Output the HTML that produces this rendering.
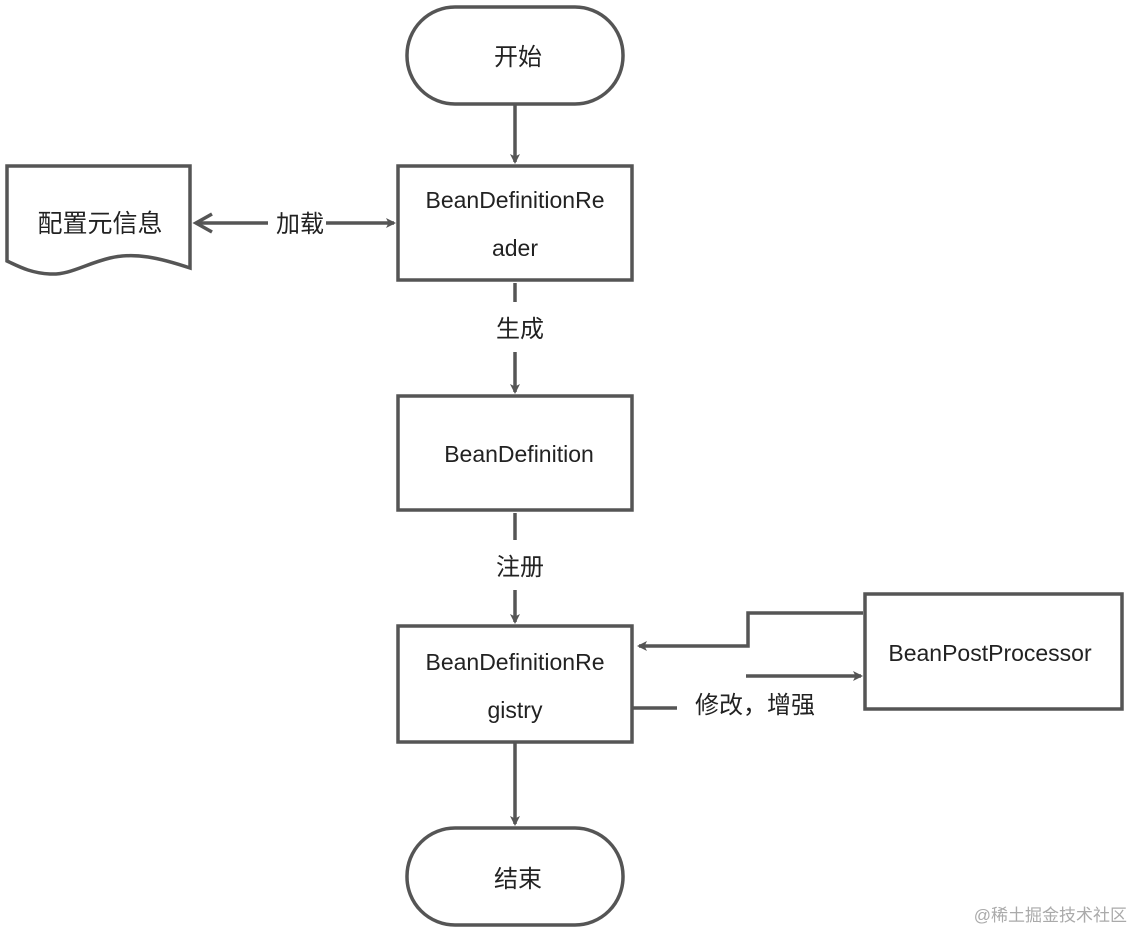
<!DOCTYPE html>
<html><head><meta charset="utf-8"><style>
html,body{margin:0;padding:0;background:#fff;}
svg{display:block;}
text{font-family:"Liberation Sans","Noto Sans CJK SC",sans-serif;fill:#222;}
</style></head><body>
<svg width="1133" height="932" viewBox="0 0 1133 932" xmlns="http://www.w3.org/2000/svg">
<defs>
<marker id="ah" markerWidth="10" markerHeight="10" refX="8" refY="5" orient="auto" markerUnits="userSpaceOnUse" viewBox="0 0 10 10">
<path d="M0,0 L10,5 L0,10 L2.5,5 Z" fill="#555"/>
</marker>
</defs>
<g fill="none" stroke="#555" stroke-width="3.5">
<rect x="407" y="7" width="216" height="97" rx="48" fill="#fff"/>
<rect x="398" y="166" width="234" height="114" fill="#fff"/>
<path d="M7,166 L190,166 L190,268 C160,258 135,252 110,258 C85,264 70,275 50,274 C30,273 18,266 7,261 Z" fill="#fff"/>
<rect x="398" y="396" width="234" height="114" fill="#fff"/>
<rect x="398" y="626" width="234" height="116" fill="#fff"/>
<rect x="865" y="594" width="257" height="115" fill="#fff"/>
<rect x="407" y="828" width="216" height="97" rx="48" fill="#fff"/>
</g>
<g fill="none" stroke="#555" stroke-width="3.5">
<line x1="515" y1="104" x2="515" y2="162" marker-end="url(#ah)" stroke-width="3.5"/>
<line x1="515" y1="283" x2="515" y2="302"/>
<line x1="515" y1="352" x2="515" y2="392" marker-end="url(#ah)"/>
<line x1="515" y1="513" x2="515" y2="540"/>
<line x1="515" y1="590" x2="515" y2="622" marker-end="url(#ah)"/>
<line x1="515" y1="742" x2="515" y2="824" marker-end="url(#ah)"/>
<line x1="268" y1="223" x2="197" y2="223"/>
<path d="M212,214 L196,223 L212,232" stroke-width="3.5"/>
<line x1="326" y1="223" x2="394" y2="223" marker-end="url(#ah)"/>
<path d="M863,613 L748,613 L748,646 L639,646" marker-end="url(#ah)"/>
<line x1="632" y1="708" x2="677" y2="708"/>
<line x1="746" y1="676" x2="861" y2="676" marker-end="url(#ah)"/>
</g>
<text x="518" y="65" font-size="24" text-anchor="middle">开始</text>
<text x="515" y="208" font-size="23" text-anchor="middle">BeanDefinitionRe</text>
<text x="515" y="256" font-size="23" text-anchor="middle">ader</text>
<text x="100" y="232" font-size="25" text-anchor="middle">配置元信息</text>
<text x="300" y="232" font-size="24" text-anchor="middle">加载</text>
<text x="520" y="337" font-size="24" text-anchor="middle">生成</text>
<text x="519" y="462" font-size="23" text-anchor="middle">BeanDefinition</text>
<text x="520" y="575" font-size="24" text-anchor="middle">注册</text>
<text x="515" y="670" font-size="23" text-anchor="middle">BeanDefinitionRe</text>
<text x="515" y="718" font-size="23" text-anchor="middle">gistry</text>
<text x="990" y="661" font-size="23" text-anchor="middle">BeanPostProcessor</text>
<text x="755" y="713" font-size="24" text-anchor="middle">修改，增强</text>
<text x="518" y="887" font-size="24" text-anchor="middle">结束</text>
<text x="1127" y="921" font-size="17" text-anchor="end" style="fill:#aaa">@稀土掘金技术社区</text>
</svg>
</body></html>
